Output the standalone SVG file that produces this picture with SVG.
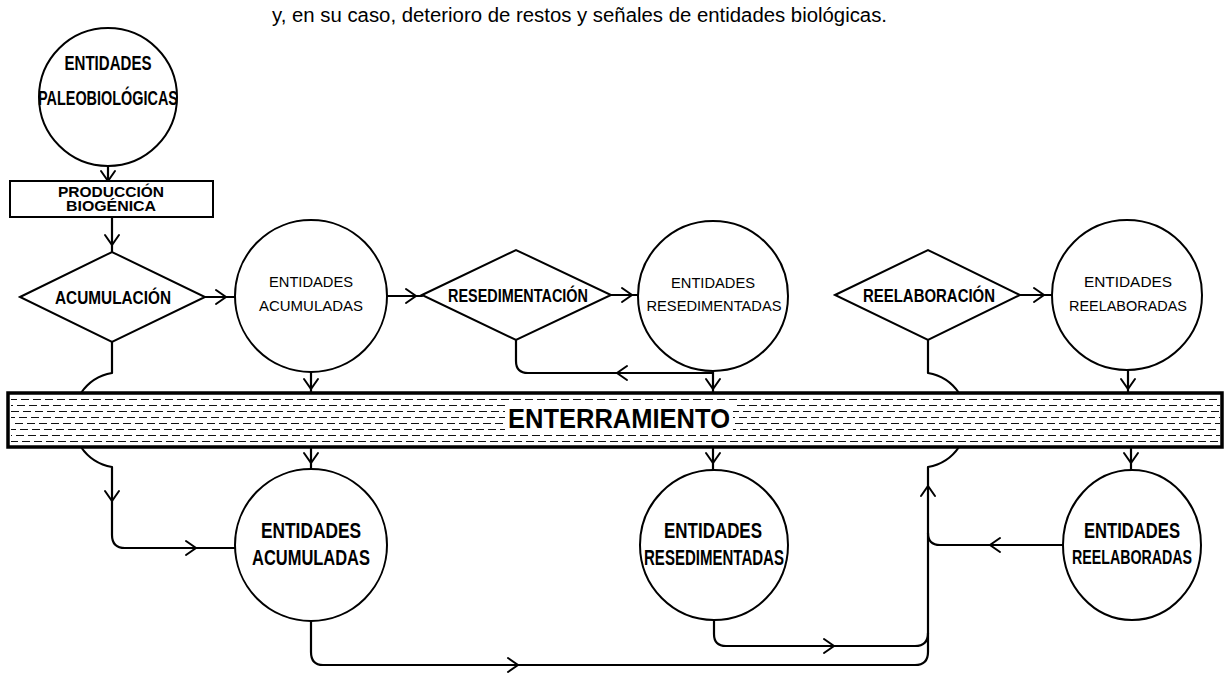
<svg xmlns="http://www.w3.org/2000/svg" xmlns:xlink="http://www.w3.org/1999/xlink" width="1225" height="675" viewBox="0 0 1225 675">
<style>
.shape{fill:#fff;stroke:#000;stroke-width:2}
.conn{fill:none;stroke:#000;stroke-width:2.2;stroke-linecap:round;stroke-linejoin:round}
.ah{fill:none;stroke:#000;stroke-width:2;stroke-linecap:round;stroke-linejoin:miter}
.t{font-family:"Liberation Sans",Arial,sans-serif;fill:#000;text-anchor:middle}
.nb{font-family:"Liberation Sans Narrow","Liberation Sans",Arial,sans-serif;font-weight:bold;fill:#000;text-anchor:middle}
.dash{stroke:#111;stroke-width:1.2;stroke-dasharray:8 4}
</style>
<defs>
<path id="ah" d="M-7,-10 L0,0 L7,-10"/>
</defs>
<rect width="1225" height="675" fill="#fff"/>
<text class="t" x="272" y="22" font-size="20" style="text-anchor:start" textLength="615" lengthAdjust="spacingAndGlyphs">y, en su caso, deterioro de restos y señales de entidades biológicas.</text>

<g id="connectors">
<path class="conn" d="M108,166 V181"/>
<path class="conn" d="M112,217 V252"/>
<path class="conn" d="M205,297 H235"/>
<path class="conn" d="M387,296 H422"/>
<path class="conn" d="M611,295 H638"/>
<path class="conn" d="M1020,295 H1052"/>
<path class="conn" d="M311,372 V393"/>
<path class="conn" d="M713,371 V393"/>
<path class="conn" d="M1128,370 V393"/>
<path class="conn" d="M311,447 V469"/>
<path class="conn" d="M713,447 V470"/>
<path class="conn" d="M1131,447 V470"/>
<path class="conn" d="M112,342 V373 A47,47 0 0 0 81,393"/>
<path class="conn" d="M81,447 A47,47 0 0 0 112,467 V535 Q112,548 125,548 H235"/>
<path class="conn" d="M516,340 V361 Q516,373 528,373 H713"/>
<path class="conn" d="M928,340 V373 A47,47 0 0 1 959,393"/>
<path class="conn" d="M959,447 A47,47 0 0 1 928,467 V652 Q928,665 915,665 H323 Q311,665 311,652 V621"/>
<path class="conn" d="M714,620 V634 Q714,646 726,646 H915 Q928,646 928,633"/>
<path class="conn" d="M1063,545 H940 Q928,545 928,533"/>
<g class="ah">
<use xlink:href="#ah" transform="translate(108,181)"/>
<use xlink:href="#ah" transform="translate(112,245)"/>
<use xlink:href="#ah" transform="translate(226,297) rotate(-90)"/>
<use xlink:href="#ah" transform="translate(416,296) rotate(-90)"/>
<use xlink:href="#ah" transform="translate(632,295) rotate(-90)"/>
<use xlink:href="#ah" transform="translate(1044,295) rotate(-90)"/>
<use xlink:href="#ah" transform="translate(311,389)"/>
<use xlink:href="#ah" transform="translate(713,389)"/>
<use xlink:href="#ah" transform="translate(1128,389)"/>
<use xlink:href="#ah" transform="translate(311,463)"/>
<use xlink:href="#ah" transform="translate(713,463)"/>
<use xlink:href="#ah" transform="translate(1131,463)"/>
<use xlink:href="#ah" transform="translate(112,501)"/>
<use xlink:href="#ah" transform="translate(196,548) rotate(-90)"/>
<use xlink:href="#ah" transform="translate(617,373) rotate(90)"/>
<use xlink:href="#ah" transform="translate(834,646) rotate(-90)"/>
<use xlink:href="#ah" transform="translate(518,665) rotate(-90)"/>
<use xlink:href="#ah" transform="translate(990,545) rotate(90)"/>
<use xlink:href="#ah" transform="translate(928,486) rotate(180)"/>
</g>
</g>

<g id="enterramiento">
<rect x="8" y="393" width="1214" height="54" fill="#fff" stroke="#000" stroke-width="3.5"/>
<g class="dash">
<line x1="11" y1="399.5" x2="1220" y2="399.5" stroke-dashoffset="2"/>
<line x1="11" y1="405.5" x2="1220" y2="405.5" stroke-dashoffset="6"/>
<line x1="11" y1="411.5" x2="1220" y2="411.5" stroke-dashoffset="0"/>
<line x1="11" y1="417.5" x2="1220" y2="417.5" stroke-dashoffset="4"/>
<line x1="11" y1="423.5" x2="1220" y2="423.5" stroke-dashoffset="8"/>
<line x1="11" y1="429.5" x2="1220" y2="429.5" stroke-dashoffset="3"/>
<line x1="11" y1="435.5" x2="1220" y2="435.5" stroke-dashoffset="7"/>
<line x1="11" y1="441.5" x2="1220" y2="441.5" stroke-dashoffset="1"/>
</g>
<rect x="505" y="403" width="228" height="29" fill="#fff"/>
<text x="619" y="428" font-family="Liberation Sans,Arial,sans-serif" font-weight="bold" font-size="27" text-anchor="middle" textLength="222" lengthAdjust="spacingAndGlyphs">ENTERRAMIENTO</text>
</g>

<g id="paleobiologicas">
<circle class="shape" cx="108" cy="97" r="69"/>
<text class="nb" x="108" y="70" font-size="21" textLength="87" lengthAdjust="spacingAndGlyphs">ENTIDADES</text>
<text class="nb" x="108" y="105" font-size="21" textLength="140" lengthAdjust="spacingAndGlyphs">PALEOBIOLÓGICAS</text>
</g>

<g id="produccion">
<rect class="shape" x="10" y="181" width="203" height="36"/>
<text class="t" x="111" y="197" font-size="14.5" font-weight="bold" textLength="106" lengthAdjust="spacingAndGlyphs">PRODUCCIÓN</text>
<text class="t" x="111" y="211" font-size="14.5" font-weight="bold" textLength="90" lengthAdjust="spacingAndGlyphs">BIOGÉNICA</text>
</g>

<g id="acumulacion">
<polygon class="shape" points="20,297 112,252 205,297 112,342"/>
<text class="nb" x="113" y="304" font-size="19" textLength="116" lengthAdjust="spacingAndGlyphs">ACUMULACIÓN</text>
</g>

<g id="acumuladas1">
<circle class="shape" cx="311" cy="296" r="76"/>
<text class="t" x="311" y="287" font-size="15" textLength="84" lengthAdjust="spacingAndGlyphs">ENTIDADES</text>
<text class="t" x="311" y="311" font-size="15" textLength="104" lengthAdjust="spacingAndGlyphs">ACUMULADAS</text>
</g>

<g id="resedimentacion">
<polygon class="shape" points="422,295 516,250 611,295 516,340"/>
<text class="nb" x="518" y="302" font-size="19" textLength="140" lengthAdjust="spacingAndGlyphs">RESEDIMENTACIÓN</text>
</g>

<g id="resedimentadas1">
<circle class="shape" cx="713" cy="296" r="75"/>
<text class="t" x="713" y="288" font-size="15" textLength="84" lengthAdjust="spacingAndGlyphs">ENTIDADES</text>
<text class="t" x="714" y="311" font-size="15" textLength="135" lengthAdjust="spacingAndGlyphs">RESEDIMENTADAS</text>
</g>

<g id="reelaboracion">
<polygon class="shape" points="835,295 928,250 1020,295 928,340"/>
<text class="nb" x="929" y="302" font-size="19" textLength="132" lengthAdjust="spacingAndGlyphs">REELABORACIÓN</text>
</g>

<g id="reelaboradas1">
<circle class="shape" cx="1127" cy="295" r="75"/>
<text class="t" x="1128" y="287" font-size="15" textLength="88" lengthAdjust="spacingAndGlyphs">ENTIDADES</text>
<text class="t" x="1128" y="311" font-size="15" textLength="118" lengthAdjust="spacingAndGlyphs">REELABORADAS</text>
</g>

<g id="acumuladas2">
<circle class="shape" cx="311" cy="545" r="76"/>
<text class="nb" x="311" y="538" font-size="22" textLength="100" lengthAdjust="spacingAndGlyphs">ENTIDADES</text>
<text class="nb" x="311" y="565" font-size="22" textLength="118" lengthAdjust="spacingAndGlyphs">ACUMULADAS</text>
</g>

<g id="resedimentadas2">
<ellipse class="shape" cx="714" cy="545" rx="74" ry="75"/>
<text class="nb" x="713" y="538" font-size="22" textLength="98" lengthAdjust="spacingAndGlyphs">ENTIDADES</text>
<text class="nb" x="714" y="565" font-size="22" textLength="140" lengthAdjust="spacingAndGlyphs">RESEDIMENTADAS</text>
</g>

<g id="reelaboradas2">
<ellipse class="shape" cx="1132" cy="545" rx="69" ry="75"/>
<text class="nb" x="1132" y="538" font-size="22" textLength="96" lengthAdjust="spacingAndGlyphs">ENTIDADES</text>
<text class="nb" x="1132" y="564" font-size="20" textLength="120" lengthAdjust="spacingAndGlyphs">REELABORADAS</text>
</g>
</svg>
